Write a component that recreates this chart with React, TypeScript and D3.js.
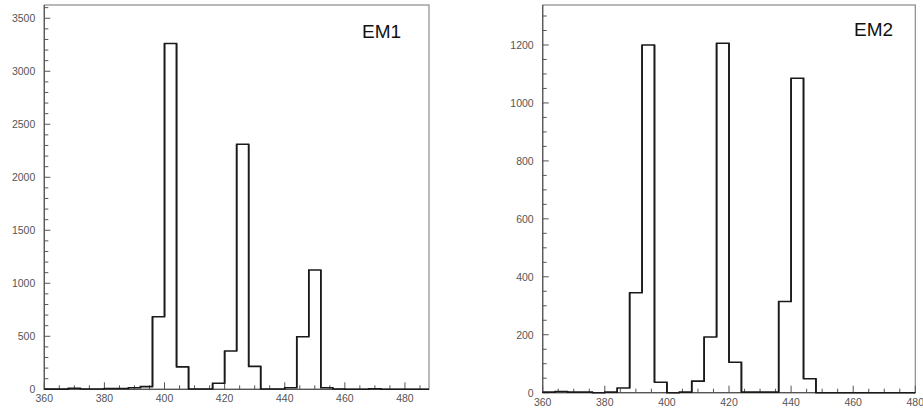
import React from "react";
import * as d3 from "d3";

// Bin edges start at 360, width 4
const binStart = 360;
const binWidth = 4;

const em1Values = [
  2, 2, 10, 3, 3, 8, 8, 15, 25, 685, 3262, 212, 3, 3, 57, 361, 2311, 216, 3, 3, 15, 496, 1125, 15, 3, 0, 0, 5, 0, 0, 0, 0,
];
const em2Values = [
  2, 4, 2, 2, 0, 2, 16, 345, 1200, 36, 0, 2, 40, 192, 1206, 105, 2, 2, 2, 315, 1085, 48, 0, 0, 0, 0, 0, 0, 0, 0,
];

const em1XTicks = [360, 380, 400, 420, 440, 460, 480];
const em1YTicks = [0, 500, 1000, 1500, 2000, 2500, 3000, 3500];
const em2XTicks = [360, 380, 400, 420, 440, 460, 480];
const em2YTicks = [0, 200, 400, 600, 800, 1000, 1200];

interface PanelProps {
  values: number[];
  label: string;
  labelX: number;
  labelY: number;
  left: number;
  right: number;
  top: number;
  bottom: number;
  xMax: number;
  yMax: number;
  xTicks: number[];
  yTicks: number[];
  yMinorStep: number;
}

function Panel(p: PanelProps) {
  const x = d3.scaleLinear().domain([360, p.xMax]).range([p.left, p.right]);
  const y = d3.scaleLinear().domain([0, p.yMax]).range([p.bottom, p.top]);

  const pts: [number, number][] = [];
  p.values.forEach((v, i) => {
    const x0 = binStart + i * binWidth;
    const x1 = x0 + binWidth;
    if (x1 > p.xMax) return;
    pts.push([x(x0), y(v)]);
    pts.push([x(x1), y(v)]);
  });
  const pathD = d3.line()(pts) || "";

  const xMinor = d3.range(360, p.xMax + 0.001, 5);
  const yMinor = d3.range(0, p.yMax, p.yMinorStep);

  return (
    <g>
      <rect
        x={p.left}
        y={p.top}
        width={p.right - p.left}
        height={p.bottom - p.top}
        fill="white"
        stroke="#8a8a8a"
        strokeWidth={1.2}
      />
      <line x1={p.left} x2={p.left} y1={p.top} y2={p.bottom} stroke="#555" strokeWidth={1.2} />
      <line x1={p.left} x2={p.right} y1={p.bottom} y2={p.bottom} stroke="#555" strokeWidth={1.2} />
      {xMinor.map((t) => {
        const major = t % 20 === 0;
        return (
          <line
            key={"xm" + t}
            x1={x(t)}
            x2={x(t)}
            y1={p.bottom}
            y2={p.bottom - (major ? 7 : 4)}
            stroke="#555"
            strokeWidth={1}
          />
        );
      })}
      {yMinor.map((t) => {
        const major = p.yTicks.includes(t);
        return (
          <line
            key={"ym" + t}
            x1={p.left}
            x2={p.left + (major ? 6 : 4)}
            y1={y(t)}
            y2={y(t)}
            stroke="#555"
            strokeWidth={1}
          />
        );
      })}
      {p.xTicks.map((t) => (
        <text
          key={"xt" + t}
          x={x(t)}
          y={p.bottom + 13}
          textAnchor="middle"
          fontSize={10.5}
          fill="#555"
          fontFamily="Liberation Sans, Arial, sans-serif"
        >
          {t}
        </text>
      ))}
      {p.yTicks.map((t) => (
        <text
          key={"yt" + t}
          x={p.left - 9}
          y={y(t) + 4}
          textAnchor="end"
          fontSize={10.5}
          fill="#555"
          fontFamily="Liberation Sans, Arial, sans-serif"
        >
          {t}
        </text>
      ))}
      <path
        d={pathD + `M${x(binStart)},${y(0)}L${x(binStart)},${y(p.values[0])}`}
        fill="none"
        stroke="#1a1a1a"
        strokeWidth={1.6}
      />
      {p.values.map((v, i) => {
        if (i === 0) return null;
        const xe = binStart + i * binWidth;
        if (xe >= p.xMax) return null;
        const prev = p.values[i - 1];
        return (
          <line
            key={"v" + i}
            x1={x(xe)}
            x2={x(xe)}
            y1={y(prev)}
            y2={y(v)}
            stroke="#1a1a1a"
            strokeWidth={1.6}
          />
        );
      })}
      <text
        x={p.labelX}
        y={p.labelY}
        textAnchor="start"
        fontSize={19}
        fill="#111"
        fontFamily="Liberation Sans, Arial, sans-serif"
      >
        {p.label}
      </text>
    </g>
  );
}

export default function App() {
  return (
    <svg width={923} height={411} style={{ position: "absolute", left: 0, top: 0, background: "white" }}>
      <Panel
        values={em1Values}
        label="EM1"
        labelX={362}
        labelY={38}
        left={44.3}
        right={429}
        top={5}
        bottom={389.3}
        xMax={488}
        yMax={3625}
        xTicks={em1XTicks}
        yTicks={em1YTicks}
        yMinorStep={100}
      />
      <Panel
        values={em2Values}
        label="EM2"
        labelX={854}
        labelY={36}
        left={542.7}
        right={915.3}
        top={5}
        bottom={392.7}
        xMax={480}
        yMax={1338}
        xTicks={em2XTicks}
        yTicks={em2YTicks}
        yMinorStep={50}
      />
    </svg>
  );
}
